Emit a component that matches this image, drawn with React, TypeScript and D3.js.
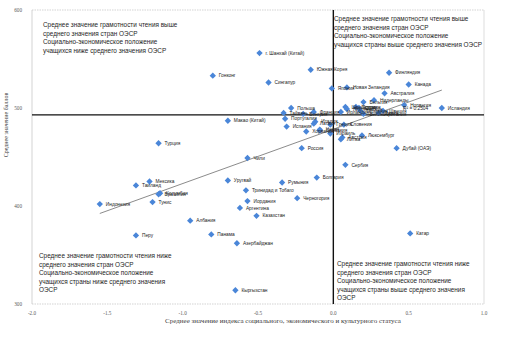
import React from "react";
import * as d3 from "d3";

const countries = [
  "г. Шанхай (Китай)", "Южная Корея", "Финляндия", "Гонконг", "Сингапур", "Канада",
  "Новая Зеландия", "Япония", "Австралия", "Нидерланды", "Бельгия", "Норвегия",
  "Эстония", "Швейцария", "Польша", "Исландия", "США", "Лихтенштейн", "Швеция",
  "Германия", "Ирландия", "Франция", "Тайвань", "Дания", "Великобритания", "Венгрия",
  "Португалия", "Макао (Китай)", "Италия", "Латвия", "Словения", "Греция", "Испания",
  "Чехия", "Словакия", "Хорватия", "Израиль", "Люксембург", "Австрия", "Литва",
  "Турция", "Дубай (ОАЭ)", "Россия", "Чили", "Сербия", "Болгария", "Уругвай",
  "Мексика", "Румыния", "Таиланд", "Тринидад и Тобаго", "Колумбия", "Бразилия",
  "Черногория", "Иордания", "Тунис", "Индонезия", "Аргентина", "Казахстан",
  "Албания", "Катар", "Панама", "Перу", "Азербайджан", "Кыргызстан",
];

const escs = [
  -0.49, -0.15, 0.37, -0.80, -0.43, 0.50,
  0.09, -0.01, 0.34, 0.27, 0.20, 0.47,
  0.15, 0.08, -0.28, 0.72, 0.17, 0.09, 0.33,
  0.18, 0.05, -0.13, -0.33, 0.30, 0.20, -0.20,
  -0.32, -0.70, -0.12, -0.13, 0.07, -0.02, -0.31,
  -0.09, -0.09, -0.18, -0.02, 0.19, 0.06, 0.05,
  -1.16, 0.42, -0.21, -0.57, 0.08, -0.11, -0.70,
  -1.22, -0.34, -1.31, -0.58, -1.15, -1.16,
  -0.24, -0.57, -1.20, -1.55, -0.62, -0.51,
  -0.95, 0.51, -0.81, -1.31, -0.64, -0.65,
];

const reading = [
  556, 539, 536, 533, 526, 524,
  521, 520, 515, 508, 506, 503,
  501, 501, 500, 500, 500, 499, 497,
  497, 496, 496, 495, 495, 494, 494,
  489, 487, 486, 484, 483, 483, 481,
  478, 477, 476, 474, 472, 470, 468,
  464, 459, 459, 449, 442, 429, 426,
  425, 424, 421, 416, 413, 412,
  408, 405, 404, 402, 398, 390,
  385, 372, 371, 370, 362, 314,
];

const xTicks = [-2.0, -1.5, -1.0, -0.5, 0.0, 0.5, 1.0];
const yTicks = [300, 400, 500, 600];
const oecdReading = [493];
const oecdEscs = [0];

const quadTopLeft = [
  "Среднее значение грамотности чтения выше",
  "среднего значения стран ОЭСР",
  "Социально-экономическое положение",
  "учащихся ниже среднего значения ОЭСР",
];
const quadTopRight = [
  "Среднее значение грамотности чтения выше",
  "среднего значения стран ОЭСР",
  "Социально-экономическое положение",
  "учащихся страны выше среднего значения ОЭСР",
];
const quadBottomLeft = [
  "Среднее значение грамотности чтения ниже",
  "среднего значения стран ОЭСР",
  "Социально-экономическое положение",
  "учащихся страны ниже среднего значения",
  "ОЭСР",
];
const quadBottomRight = [
  "Среднее значение грамотности чтения ниже",
  "среднего значения стран ОЭСР",
  "Социально-экономическое положение",
  "учащихся страны выше среднего значения",
  "ОЭСР",
];
const xTitle = "Среднее значение индекса социального, экономического и культурного статуса";
const yTitle = "Среднее значение баллов";
const r2Label = "R² = 0.2504";

const W = 516;
const H = 339;
const L = 32, R = 484, T = 10, B = 304;

const diamond = {
  draw(ctx: any, size: number) {
    const r = Math.sqrt(size / 2);
    ctx.moveTo(0, -r);
    ctx.lineTo(r, 0);
    ctx.lineTo(0, r);
    ctx.lineTo(-r, 0);
    ctx.closePath();
  },
};

export default function App() {
  const x = d3.scaleLinear().domain([-2, 1]).range([L, R]);
  const y = d3.scaleLinear().domain([300, 600]).range([B, T]);
  const sym = d3.symbol(diamond as any, 20)();

  // least squares trend
  const mx = d3.mean(escs)!;
  const my = d3.mean(reading)!;
  let sxy = 0, sxx = 0;
  escs.forEach((v, i) => {
    sxy += (v - mx) * (reading[i] - my);
    sxx += (v - mx) * (v - mx);
  });
  const slope = sxy / sxx;
  const icpt = my - slope * mx;
  const [xmin, xmax] = d3.extent(escs) as [number, number];
  const trend = d3.line<number>().x((d) => x(d)).y((d) => y(icpt + slope * d))([xmin, xmax]);

  const quadFont = "'Liberation Sans', Arial, sans-serif";
  const serif = "'Liberation Serif', 'Times New Roman', serif";
  const quad = (lines: string[], x0: number, y0: number) => (
    <text x={x0} y={y0} fontFamily={quadFont} fontSize={6.4} fill="#262626">
      {lines.map((l, i) => (
        <tspan key={i} x={x0} y={y0 + i * 8.5}>{l}</tspan>
      ))}
    </text>
  );

  return (
    <svg width={W} height={H} style={{ position: "absolute", left: 0, top: 0, background: "#fff" }}>
      {/* plot frame */}
      <line x1={L} x2={R} y1={T} y2={T} stroke="#c8c8c8" strokeWidth={0.8} strokeDasharray="1.5,1" />
      <line x1={L} x2={R} y1={B} y2={B} stroke="#c8c8c8" strokeWidth={0.8} strokeDasharray="1.5,1" />
      <line x1={L} x2={L} y1={T} y2={B} stroke="#c8c8c8" strokeWidth={0.8} />
      <line x1={R} x2={R} y1={T} y2={B} stroke="#d4d4d4" strokeWidth={0.8} />

      {/* tick labels */}
      {yTicks.map((t) => (
        <text key={t} x={L - 10} y={y(t)} dy="0.35em" textAnchor="end" fontFamily={serif} fontSize={5.2} fill="#595959">
          {t}
        </text>
      ))}
      {xTicks.map((t) => (
        <text key={t} x={x(t)} y={B + 11} textAnchor="middle" fontFamily={serif} fontSize={5.2} fill="#595959">
          {t.toFixed(1)}
        </text>
      ))}

      {/* axis titles */}
      <text x={283} y={323} textAnchor="middle" fontFamily={serif} fontSize={7} fill="#404040">
        {xTitle}
      </text>
      <text transform={`translate(8,125) rotate(-90)`} textAnchor="middle" fontFamily={serif} fontSize={6} fill="#404040">
        {yTitle}
      </text>

      {/* quadrant notes */}
      {quad(quadTopLeft, 43, 27)}
      {quad(quadTopRight, 334, 21)}
      {quad(quadBottomLeft, 39, 258)}
      {quad(quadBottomRight, 337, 266)}

      {/* OECD mean lines */}
      {oecdReading.map((v) => (
        <line key={"h" + v} x1={L} x2={R} y1={y(v)} y2={y(v)} stroke="#111" strokeWidth={1.4} />
      ))}
      {oecdEscs.map((v) => (
        <line key={"v" + v} x1={x(v)} x2={x(v)} y1={T} y2={B} stroke="#111" strokeWidth={1.4} />
      ))}

      {/* trend line */}
      <path d={trend || ""} fill="none" stroke="#595959" strokeWidth={0.7} />

      {/* points */}
      {countries.map((c, i) => (
        <path key={c} d={sym || ""} transform={`translate(${x(escs[i])},${y(reading[i])})`} fill="#4a86d8" />
      ))}
      {/* labels */}
      {countries.map((c, i) => (
        <text key={"l" + c} x={x(escs[i]) + 6} y={y(reading[i])} dy="0.35em" fontFamily={quadFont} fontSize={4.8} fill="#1a1a1a">
          {c}
        </text>
      ))}
      <text x={403} y={110} fontFamily={quadFont} fontSize={4.8} fill="#1a1a1a">{r2Label}</text>
    </svg>
  );
}
